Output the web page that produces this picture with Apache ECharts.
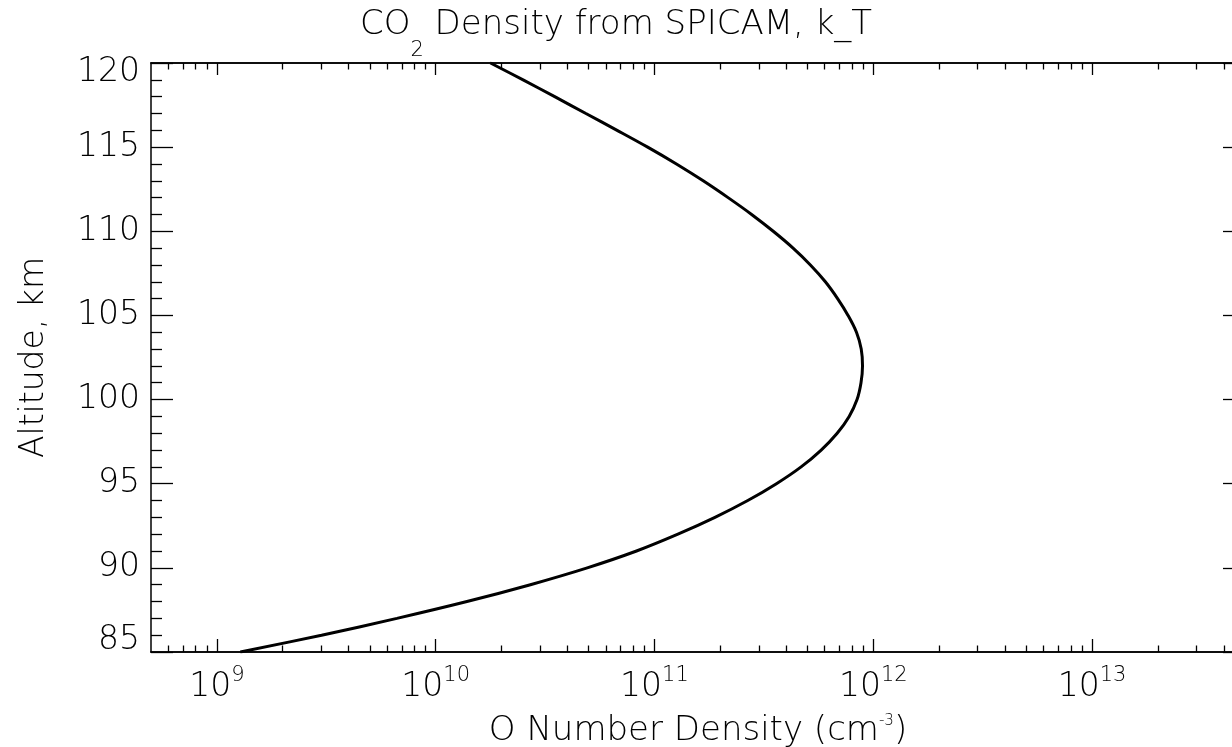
<!DOCTYPE html>
<html>
<head>
<meta charset="utf-8">
<title>CO2 Density from SPICAM</title>
<script src="https://cdn.jsdelivr.net/npm/echarts@6/dist/echarts.min.js"></script>
<style>
  html, body { margin: 0; padding: 0; background: #fff; }
  #chart { width: 1232px; height: 747px; }
</style>
</head>
<body>
<div id="chart"></div>
<script>
// Altitude grid of the retrieved profile (km)
const altitudeKm = [
  85, 86, 87, 88, 89, 90, 91, 92, 93, 94, 95, 96,
  97, 98, 99, 100, 101, 102, 103, 104, 105, 106, 107, 108,
  109, 110, 111, 112, 113, 114, 115, 116, 117, 118, 119, 120
];

// Number density at each altitude (cm^-3)
const numberDensity = [
  1.28e9, 3.01e9, 6.65e9, 1.39e10, 2.71e10, 4.93e10, 8.28e10, 1.28e11, 1.89e11, 2.67e11, 3.61e11, 4.68e11,
  5.78e11, 6.84e11, 7.76e11, 8.43e11, 8.79e11, 8.93e11, 8.81e11, 8.38e11, 7.67e11, 6.87e11, 6.04e11, 5.16e11,
  4.30e11, 3.49e11, 2.78e11, 2.17e11, 1.67e11, 1.26e11, 9.31e10, 6.75e10, 4.86e10, 3.50e10, 2.51e10, 1.78e10
];

// Axis ranges and labelled ticks
const densityRange = [5e8, 5e13];
const densityDecades = [1e9, 1e10, 1e11, 1e12, 1e13];
const altitudeRange = [85, 120];
const altitudeStep = 5;

// Minor ticks at 2..9 times each decade inside the axis range
const densityMinor = [];
for (let e = 8; e <= 13; e++) {
  for (let m = 2; m <= 9; m++) {
    const v = m * Math.pow(10, e);
    if (v > densityRange[0] && v < densityRange[1]) densityMinor.push(v);
  }
}

const FONT = 'DejaVu Sans';
const WEIGHT = 200;
const INK = '#000';
const AXIS_W = 1.5;

function txt(size, extra) {
  return Object.assign({ fontSize: size, fontFamily: FONT, fontWeight: WEIGHT, color: INK }, extra || {});
}

function densityAxis(position, ticks, tickLen, withLabels) {
  const axis = {
    type: 'log',
    logBase: 10,
    gridIndex: 0,
    position: position,
    offset: 0,
    min: densityRange[0],
    max: densityRange[1],
    axisLine: { show: true, onZero: false, lineStyle: { color: INK, width: AXIS_W } },
    axisTick: { show: true, inside: true, length: tickLen, customValues: ticks,
                lineStyle: { color: INK, width: 1.3 } },
    axisLabel: { show: false },
    splitLine: { show: false },
    minorTick: { show: false },
    minorSplitLine: { show: false }
  };
  if (withLabels) {
    // "10" with a raised exponent (bottom padding lifts the exponent)
    axis.axisLabel = {
      show: true,
      customValues: ticks,
      margin: 13,
      formatter: function (v) {
        return '{b|10}{e|' + Math.round(Math.log10(v)) + '}';
      },
      rich: {
        b: txt(33, { lineHeight: 44 }),
        e: txt(21, { lineHeight: 22, padding: [0, 0, 22, 0] })
      }
    };
    axis.name = '{a|O Number Density (cm}{s|-3}{a|)}';
    axis.nameLocation = 'middle';
    axis.nameGap = 50;
    axis.nameTextStyle = {
      rich: {
        a: txt(34, { lineHeight: 40 }),
        s: txt(15, { lineHeight: 15, padding: [0, 0, 20, 0] })
      }
    };
  }
  return axis;
}

function altitudeAxis(position, withLabels) {
  const axis = {
    type: 'value',
    gridIndex: 0,
    position: position,
    offset: 0,
    min: altitudeRange[0],
    max: altitudeRange[1],
    interval: altitudeStep,
    axisLine: { show: true, onZero: false, lineStyle: { color: INK, width: AXIS_W } },
    axisTick: { show: true, inside: true, length: 22, lineStyle: { color: INK, width: 1.3 } },
    minorTick: { show: true, splitNumber: 5, length: 11, lineStyle: { color: INK, width: 1.3 } },
    axisLabel: { show: false },
    splitLine: { show: false },
    minorSplitLine: { show: false }
  };
  if (withLabels) {
    axis.axisLabel = {
      show: true,
      margin: 11,
      formatter: function (v) {
        if (v === altitudeRange[0]) return '{lo|' + v + '}';
        if (v === altitudeRange[1]) return '{hi|' + v + '}';
        return '{n|' + v + '}';
      },
      rich: {
        n: txt(33),
        lo: txt(33, { padding: [0, 0, 24, 0] }),
        hi: txt(33, { padding: [19, 0, 0, 0] })
      }
    };
    axis.name = 'Altitude, km';
    axis.nameLocation = 'middle';
    axis.nameGap = 97;
    axis.nameTextStyle = txt(33, { lineHeight: 40 });
  }
  return axis;
}

const chart = echarts.init(document.getElementById('chart'), null, { renderer: 'canvas' });

chart.setOption({
  animation: false,
  backgroundColor: '#fff',
  title: {
    left: 'center',
    top: 15,
    padding: 0,
    text: '{a|CO}{s|2}{a| Density from SPICAM, k_T}',
    textStyle: {
      fontWeight: WEIGHT,
      rich: {
        a: txt(34, { lineHeight: 38, padding: [0, 0, 17, 0] }),
        s: txt(21, { lineHeight: 21, padding: [34, 0, 0, 0] })
      }
    }
  },
  grid: { left: 151, top: 63, width: 1094, height: 589, outerBoundsMode: 'none', containLabel: false },
  xAxis: [
    densityAxis('bottom', densityDecades, 13, true),
    densityAxis('bottom', densityMinor, 6.5, false),
    densityAxis('top', densityDecades, 12, false),
    densityAxis('top', densityMinor, 6.5, false)
  ],
  yAxis: [
    altitudeAxis('left', true),
    altitudeAxis('right', false)
  ],
  series: [{
    type: 'line',
    xAxisIndex: 0,
    yAxisIndex: 0,
    data: altitudeKm.map(function (h, i) { return [numberDensity[i], h]; }),
    showSymbol: false,
    smooth: 0.35,
    clip: true,
    silent: true,
    lineStyle: { color: INK, width: 3 }
  }]
});
</script>
</body>
</html>
